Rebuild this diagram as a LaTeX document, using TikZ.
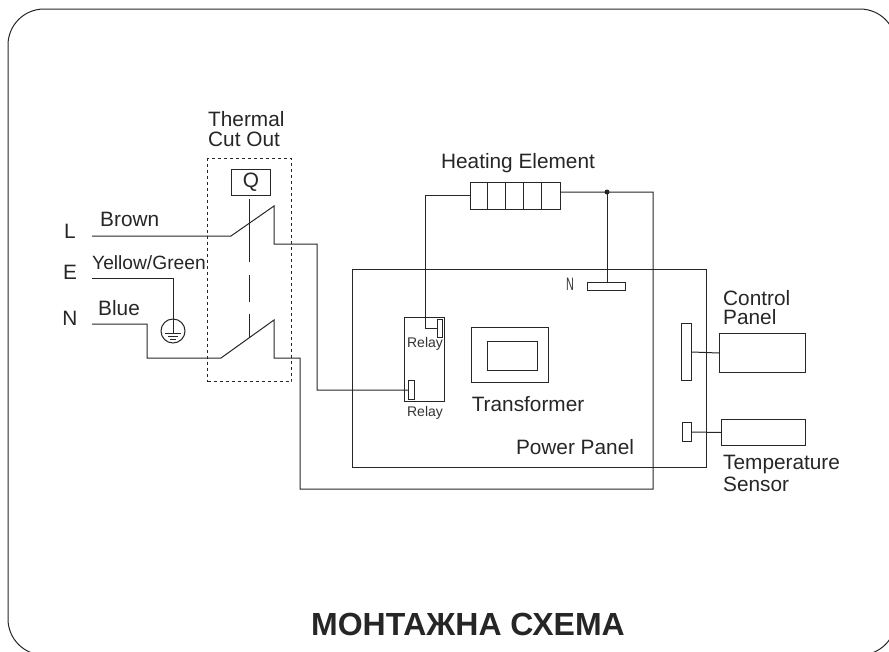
\documentclass[tikz,border=0pt]{standalone}
\usepackage{fontspec}
\setmainfont{Liberation Sans}
\usetikzlibrary{positioning}
\tikzset{
    wire/.style={draw=black!85, line width=1pt},
    partnode/.style={rectangle, draw=black!85, line width=1pt, inner sep=0pt, fill=white},
    labelnode/.style={inner sep=0pt, text=black!85, font=\fontsize{20.8}{22}\selectfont, align=left},
    tinynode/.style={inner sep=0pt, text=black!80, font=\fontsize{14}{15}\selectfont}
}
\newcommand{\partbox}[6]{\node[partnode, minimum width=#4pt-#2pt, minimum height=#5pt-#3pt, anchor=north west, #6] (#1) at (#2,#3) {};}
\begin{document}
\begin{tikzpicture}[x=1pt, y=-1pt]

        \useasboundingbox (0,0) rectangle (889,651);
        \begin{scope}
        \clip (0,0) rectangle (889,651);
        \draw[wire, rounded corners=36pt] (8,9) rectangle (896,655);
        \end{scope}

        % parts
        \partbox{heater}{470}{182}{560}{209}{}
        \partbox{panel}{352}{269}{706}{467}{fill=none}
        \partbox{relay}{404}{317}{444}{401}{}
        \partbox{relaytop}{437}{319}{442}{337}{}
        \partbox{relaylow}{408}{380}{414}{399}{}
        \partbox{neutral}{587}{282}{625}{290}{}
        \partbox{transformer}{471}{327}{548}{382}{}
        \partbox{core}{487}{341}{537}{370}{}
        \partbox{controlplug}{681}{323}{691}{380}{}
        \partbox{controlbox}{719}{333}{805}{372}{}
        \partbox{sensorplug}{682}{422}{691}{441}{}
        \partbox{sensorbox}{721}{419}{805}{445}{}
        \partbox{qbox}{231}{169}{270}{195}{}
        \node[labelnode] (qname) at (qbox) {Q};
        \foreach \x in {487,505,523,541} {
            \draw[wire] (\x,182) -- (\x,209);
        }

        % cut out
        \node[draw=black!85, dashed, line width=1pt, minimum width=84pt, minimum height=223pt, inner sep=0pt, anchor=north west] (cutout) at (207,158) {};
        \draw[wire, dash pattern=on 63pt off 13pt on 27pt off 12pt on 24pt] (249,199) -- (249,338);

        % wires
        \coordinate (lstart) at (92,236);
        \coordinate (estart) at (92,278);
        \coordinate (nstart) at (92,324);
        \coordinate (dot) at (607,192);
        \draw[wire] (lstart) -- (231,236) -- (274,206) -- (274,244) -- (317,244) -- (317,390) -- (relaylow.west);
        \draw[wire] (nstart) -- (147,324) -- (147,358) -- (221,358) -- (274,320) -- (274,358) -- (300,358) -- (300,489) -- (653,489) -- (653,192) -- (heater.east |- dot);
        \draw[wire] (heater.west |- 0,195) -- (425,195) -- (425,328) -- (437,328);
        \draw[wire] (dot) -- (neutral.north -| dot);
        \fill[black!85] (dot) circle (2.5pt);
        \draw[wire] (controlplug.east) -- (controlbox.west);
        \draw[wire] (sensorplug.east) -- (sensorbox.west);

        % earth
        \node[circle, draw=black!85, line width=1pt, minimum size=24pt, inner sep=0pt] (earth) at (173,331) {};
        \draw[wire] (estart) -- (173,278) -- (173,333);
        \draw[wire] (165,333) -- (181,333);
        \draw[wire] (168,336) -- (178,336);
        \draw[wire] (170,339) -- (176,339);

        % labels
        \node[labelnode, anchor=west] (thermal) at (208,119) {Thermal};
        \node[labelnode, anchor=west] (cut) at (208,139) {Cut Out};
        \node[labelnode] (heating) at (518,163) {Heating Element};
        \node[labelnode, anchor=west] (brown) at (100,219) {Brown};
        \node[labelnode, anchor=west, font=\fontsize{19.2}{20}\selectfont] (yellow) at (92,263) {Yellow/Green};
        \node[labelnode, anchor=west] (blue) at (98,308) {Blue};
        \node[labelnode] (lname) at (70,231) {L};
        \node[labelnode] (ename) at (70,272) {E};
        \node[labelnode] (nname) at (70,318) {N};
        \node[inner sep=0pt, text=black!80, font=\rmfamily\fontsize{18}{18}\selectfont, xscale=0.6] (nmark) at (570,284) {N};
        \node[tinynode] (relayone) at (425,344) {Relay};
        \node[tinynode] (relaytwo) at (425,413) {Relay};
        \node[labelnode] (transname) at (528,404) {Transformer};
        \node[labelnode] (powername) at (575,447) {Power Panel};
        \node[labelnode, anchor=west] (control) at (723,298) {Control};
        \node[labelnode, anchor=west] (controltwo) at (723,317) {Panel};
        \node[labelnode, anchor=west] (temp) at (723,464) {Temperature};
        \node[labelnode, anchor=west] (sensor) at (723,484) {Sensor};
        \node[inner sep=0pt, text=black!85, font=\bfseries\fontsize{32}{34}\selectfont] (title) at (468,624) {МОНТАЖНА СХЕМА};

        \end{tikzpicture}
\end{document}
